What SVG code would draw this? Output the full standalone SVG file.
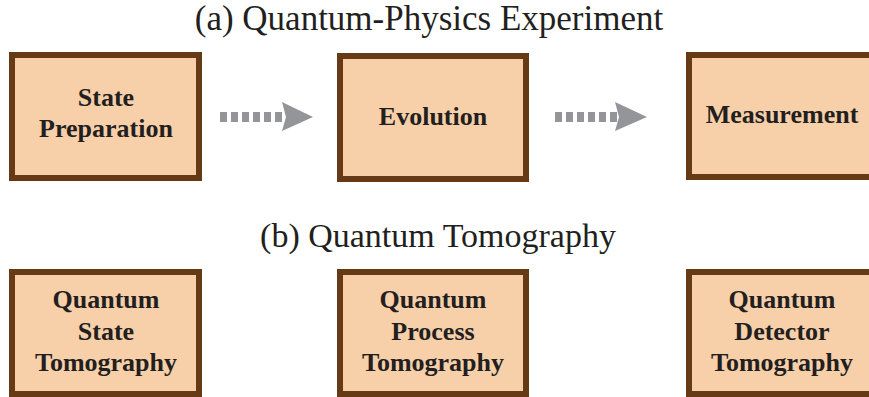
<svg xmlns="http://www.w3.org/2000/svg" width="869" height="397" viewBox="0 0 869 397">
<defs>
<style>
.box{fill:#f7cfa9;stroke:#653a14;stroke-width:6}
.lbl{font-weight:bold;font-size:26px;fill:#231f20;text-anchor:middle}
.title{fill:#231f20;text-anchor:middle}
.dash{stroke:#939598;stroke-width:10;stroke-dasharray:7 4;fill:none}
.head{fill:#939598}
</style>
</defs>
<g font-family="'Liberation Serif', 'Times New Roman', Times, serif">
<text class="title" x="429" y="30" font-size="35">(a) Quantum-Physics Experiment</text>
<text class="title" x="438" y="247" font-size="34">(b) Quantum Tomography</text>
<g id="state-preparation">
<rect class="box" x="12" y="55" width="187" height="123"/>
<text class="lbl" x="106" y="106">State</text>
<text class="lbl" x="106" y="137">Preparation</text>
</g>
<g id="evolution">
<rect class="box" x="340" y="56" width="186" height="123"/>
<text class="lbl" x="433" y="125">Evolution</text>
</g>
<g id="measurement">
<rect class="box" x="689" y="55" width="187" height="122"/>
<text class="lbl" x="782" y="123">Measurement</text>
</g>
<g id="state-tomography">
<rect class="box" x="12" y="272" width="187" height="122"/>
<text class="lbl" x="106" y="308">Quantum</text>
<text class="lbl" x="106" y="340">State</text>
<text class="lbl" x="106" y="371">Tomography</text>
</g>
<g id="process-tomography">
<rect class="box" x="340" y="272" width="186" height="122"/>
<text class="lbl" x="433" y="308">Quantum</text>
<text class="lbl" x="433" y="340">Process</text>
<text class="lbl" x="433" y="371">Tomography</text>
</g>
<g id="detector-tomography">
<rect class="box" x="689" y="272" width="187" height="122"/>
<text class="lbl" x="782" y="308">Quantum</text>
<text class="lbl" x="782" y="340">Detector</text>
<text class="lbl" x="782" y="371">Tomography</text>
</g>
</g>
<g id="connectors">
<path class="dash" d="M220 117 H286"/>
<path class="head" d="M282 102 L313 117 L282 131 L286 117 Z"/>
<path class="dash" d="M555 117 H619"/>
<path class="head" d="M615 102 L647 117 L615 131 L619 117 Z"/>
</g>
</svg>
